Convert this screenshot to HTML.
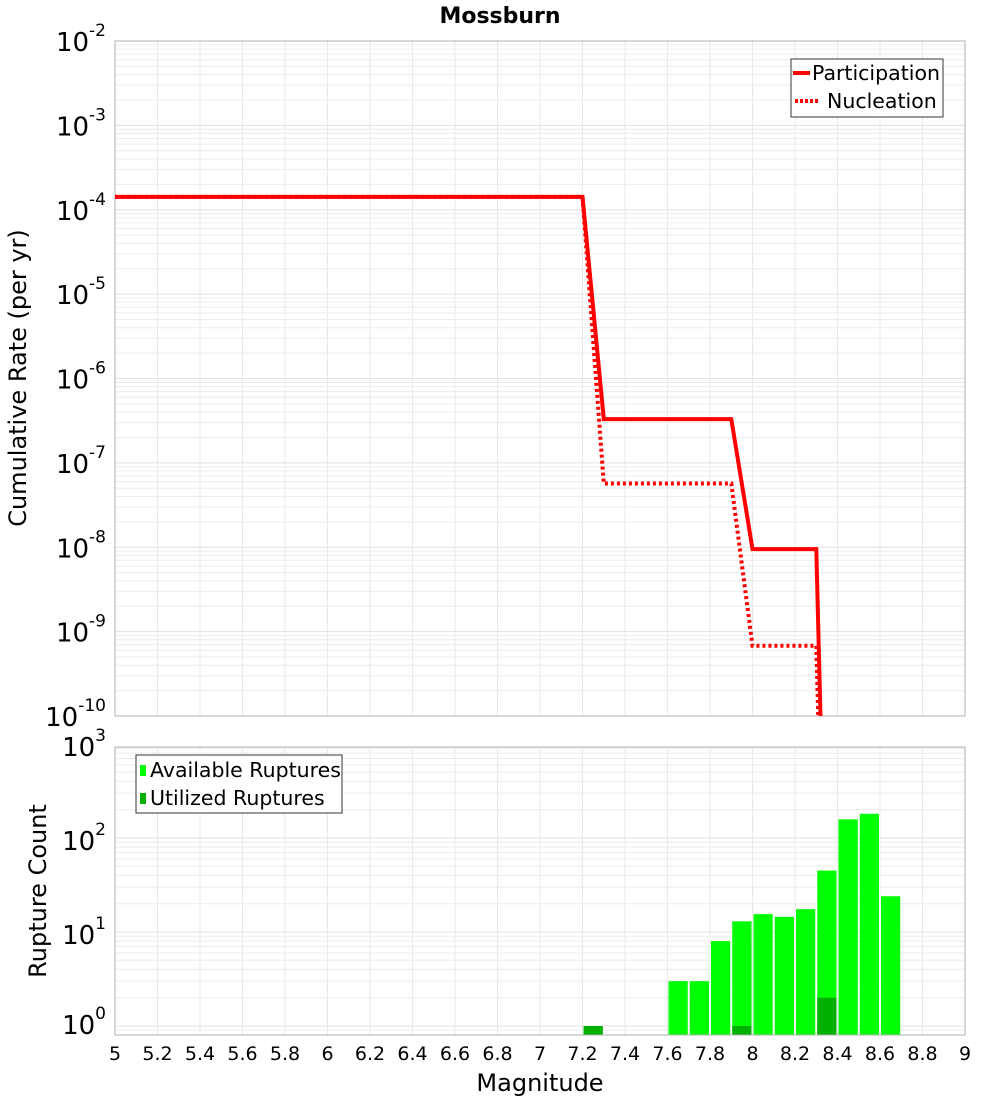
<!DOCTYPE html>
<html><head><meta charset="utf-8"><style>
body{margin:0;background:#fff;}
svg{display:block;font-family:"DejaVu Sans","Liberation Sans",sans-serif;}
</style></head><body>
<svg id="chart" width="1000" height="1100" viewBox="0 0 1000 1100" xmlns="http://www.w3.org/2000/svg">
<text x="500" y="23" text-anchor="middle" font-size="22" font-weight="bold">Mossburn</text>
<g id="topG"></g><g id="botG"></g>
<text transform="translate(26,378) rotate(-90)" text-anchor="middle" font-size="24">Cumulative Rate (per yr)</text>
<text transform="translate(46,891) rotate(-90)" text-anchor="middle" font-size="24">Rupture Count</text>
<text x="540" y="1091" text-anchor="middle" font-size="24">Magnitude</text>
</svg>
<script>
const xTicks=[5,5.2,5.4,5.6,5.8,6,6.2,6.4,6.6,6.8,7,7.2,7.4,7.6,7.8,8,8.2,8.4,8.6,8.8,9];
const partMag=[5,7.2,7.3,7.9,8.0,8.3,8.33];
const partRate=[1.42e-4,1.42e-4,3.3e-7,3.3e-7,9.5e-9,9.5e-9,1e-11];
const nuclMag=[5,7.2,7.3,7.9,8.0,8.3,8.32];
const nuclRate=[1.42e-4,1.42e-4,5.7e-8,5.7e-8,6.8e-10,6.8e-10,1e-11];
const binMag=[7.25,7.65,7.75,7.85,7.95,8.05,8.15,8.25,8.35,8.45,8.55,8.65];
const availCount=[1,3,3,8,13,15.5,14.5,17.5,45,158,181,24];
const utilCount=[1,0,0,0,1,0,0,0,2,0,0,0];
const topExp=[-2,-3,-4,-5,-6,-7,-8,-9,-10];
const botExp=[3,2,1,0];

const NS="http://www.w3.org/2000/svg";
const X0=115,X1=965;
const xs=m=>X0+(m-5)/4*(X1-X0);
const T0=41,T1=716; const ty=v=>T0+(-2-Math.log10(v))/8*(T1-T0);
const B0=747,B1=1035; const BD=94, B_ONE=1026; const by=v=>B_ONE-Math.log10(v)*BD;
function el(parent,tag,attrs,text){const e=document.createElementNS(NS,tag);for(const k in attrs)e.setAttribute(k,attrs[k]);if(text!==undefined)e.textContent=text;parent.appendChild(e);return e;}
const topG=document.getElementById('topG'), botG=document.getElementById('botG');

function grid(g,y0,y1,yf,lo,hi){
  for(const t of xTicks){el(g,'line',{x1:xs(t),x2:xs(t),y1:y0,y2:y1,stroke:'#e8e8e8','stroke-width':1});}
  for(let e=lo;e<=hi;e++)for(let k=1;k<10;k++){const y=yf(k*Math.pow(10,e));if(y<y0||y>y1)continue;
    el(g,'line',{x1:X0,x2:X1,y1:y,y2:y,stroke:k==1?'#e0e0e0':'#ececec','stroke-width':1});}
}
grid(topG,T0,T1,ty,-10,-3);
const tf=el(topG,'rect',{x:X0,y:T0,width:X1-X0,height:T1-T0,fill:'none',stroke:'#b0b0b0','stroke-width':1});


for(const e of topExp){const y=ty(Math.pow(10,e));
  const t=el(topG,'text',{x:106,y:y+10,'text-anchor':'end','font-size':26});
  
  
  el(t,'tspan',{},'10');el(t,'tspan',{dy:-15,'font-size':17},String(e));}
const clipT=el(topG,'clipPath',{id:'ct'});el(clipT,'rect',{x:X0,y:T0,width:X1-X0,height:T1-T0});
function path(mags,vals){return mags.map((m,i)=>(i?'L':'M')+xs(m).toFixed(1)+','+ty(vals[i]).toFixed(1)).join(' ');}
const pn=el(topG,'path',{d:path(nuclMag,nuclRate),fill:'none',stroke:'#ff0000','stroke-width':4,'stroke-dasharray':'3,3','clip-path':'url(#ct)'});


const pp=el(topG,'path',{d:path(partMag,partRate),fill:'none',stroke:'#ff0000','stroke-width':4,'clip-path':'url(#ct)'});


const lg=el(topG,'g',{});


el(lg,'rect',{x:791,y:59,width:152,height:58,fill:'#fff',stroke:'#333','stroke-width':1});
el(lg,'line',{x1:793,x2:810,y1:73,y2:73,stroke:'#f00','stroke-width':4});
el(lg,'text',{x:812,y:80,'font-size':20.5},'Participation');
el(lg,'line',{x1:795,x2:819,y1:101,y2:101,stroke:'#f00','stroke-width':4,'stroke-dasharray':'3,2'});
el(lg,'text',{x:827,y:108,'font-size':20.5},'Nucleation');

grid(botG,B0,B1,by,-1,2);
for(let i=0;i<binMag.length;i++){
  const l=xs(binMag[i]-0.05)+1,w=xs(0.1)-xs(0)-2;
  if(availCount[i]>0){const r=el(botG,'rect',{x:l,y:by(availCount[i]),width:w,height:B1-by(availCount[i]),fill:'#00ff00'});
    
    }
  if(utilCount[i]>0){const r=el(botG,'rect',{x:l,y:by(utilCount[i]),width:w,height:B1-by(utilCount[i]),fill:'#00b000'});
    
    }
}
const bf=el(botG,'rect',{x:X0,y:B0,width:X1-X0,height:B1-B0,fill:'none',stroke:'#b0b0b0','stroke-width':1});


const botY={3:756,2:850,1:944,0:1034};
for(const e of botExp){
  const t=el(botG,'text',{x:106,y:botY[e],'text-anchor':'end','font-size':26});
  
  
  el(t,'tspan',{},'10');el(t,'tspan',{dy:-15,'font-size':17},String(e));}
for(const t of xTicks){
  const tx=el(botG,'text',{x:xs(t),y:1060,'text-anchor':'middle','font-size':19},String(t));
  
  }
const bl=el(botG,'g',{});


el(bl,'rect',{x:136,y:755,width:206,height:58,fill:'#fff',stroke:'#333','stroke-width':1});
el(bl,'rect',{x:140,y:765,width:6,height:11,fill:'#00ff00'});
el(bl,'text',{x:150,y:777,'font-size':20.5},'Available Ruptures');
el(bl,'rect',{x:140,y:793,width:6,height:11,fill:'#00b000'});
el(bl,'text',{x:150,y:805,'font-size':20.5},'Utilized Ruptures');
</script>
</body></html>
